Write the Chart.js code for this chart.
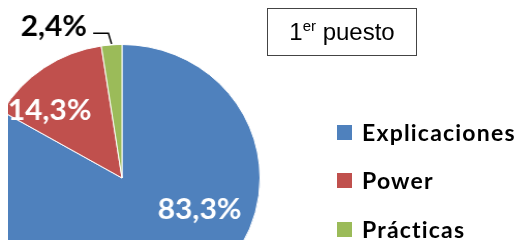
<!DOCTYPE html>
<html>
<head>
<meta charset="utf-8">
<script src="https://cdn.jsdelivr.net/npm/chart.js@4/dist/chart.umd.min.js"></script>
<style>
  body { margin: 0; width: 521px; height: 240px; overflow: hidden; position: relative; background: #fff; }
  #pieWrap { position: absolute; left: 8px; top: 0; width: 320px; height: 240px; overflow: hidden; }
  #pie { position: absolute; left: -66px; top: -2px; width: 360px; height: 360px;
         transform: scaleX(1.034); transform-origin: 180px 180px; }
  #title { position: absolute; left: 267px; top: 8px; width: 148px; height: 46px; border: 1px solid #444;
           font: 24px "Liberation Sans", Arial, sans-serif; color: #000; text-align: center; line-height: 46px; }
  #title sup { font-size: 15px; vertical-align: 0; position: relative; top: -9px; }
  #legend { position: absolute; left: 337px; top: 0; font: 700 23px Lato, sans-serif; letter-spacing: 1.2px; color: #000; }
  .item { position: absolute; left: 0; white-space: nowrap; }
  .box { position: absolute; left: 0; width: 15px; height: 15px; }
  .lbl { position: absolute; left: 25px; }
</style>
</head>
<body>
<div id="pieWrap"><canvas id="pie" width="360" height="360"></canvas></div>
<div id="title">1<sup>er</sup> puesto</div>
<div id="legend"></div>
<script>
const categories = ["Explicaciones", "Power", "Prácticas"];
const shares = [83.3, 14.3, 2.4];
const colors = ["#4F81BD", "#C0504D", "#9BBB59"];
const labelColors = ["#fff", "#fff", "#000"];
// where each value label sits: angle in degrees (canvas), distance in radii
const labelPlaces = [[23, 0.61], [224, 0.73], [246.5, 1.24]];
const legendRows = [132, 180, 229];

const fmt = (v) => v.toFixed(1).replace(".", ",") + "%";

const valueLabels = {
  id: "valueLabels",
  afterDatasetsDraw(chart) {
    const ctx = chart.ctx;
    const arcs = chart.getDatasetMeta(0).data;
    ctx.save();
    ctx.font = "700 29px Lato";
    ctx.textAlign = "center";
    ctx.textBaseline = "middle";
    arcs.forEach((arc, i) => {
      const [deg, k] = labelPlaces[i];
      const a = (deg * Math.PI) / 180;
      const x = arc.x + Math.cos(a) * arc.outerRadius * k;
      const y = arc.y + Math.sin(a) * arc.outerRadius * k;
      ctx.fillStyle = labelColors[i];
      const text = fmt(shares[i]);
      ctx.fillText(text, x, y);
      if (k > 1) {
        // leader line from the label to the slice edge
        const mid = (arc.startAngle + arc.endAngle) / 2;
        const ex = arc.x + Math.cos(mid) * (arc.outerRadius + 1);
        const ey = arc.y + Math.sin(mid) * (arc.outerRadius + 1);
        const sx = x + ctx.measureText(text).width / 2 + 6;
        const sy = y + 7;
        ctx.strokeStyle = "#000";
        ctx.lineWidth = 1.5;
        ctx.beginPath();
        ctx.moveTo(sx, sy);
        ctx.lineTo(ex - 3, sy);
        ctx.lineTo(ex, ey);
        ctx.stroke();
      }
    });
    ctx.restore();
  },
};

const chart = new Chart(document.querySelector("#pie"), {
  type: "pie",
  data: {
    labels: categories,
    datasets: [
      {
        data: shares,
        backgroundColor: colors,
        borderColor: "#fff",
        borderWidth: 1,
      },
    ],
  },
  options: {
    responsive: false,
    animation: false,
    layout: { padding: 46 },
    plugins: { legend: { display: false }, tooltip: { enabled: false } },
  },
  plugins: [valueLabels],
});

const legend = document.querySelector("#legend");
const items = Chart.overrides.pie.plugins.legend.labels.generateLabels(chart);
items.forEach((item, i) => {
  const row = document.createElement("div");
  row.className = "item";
  row.style.top = legendRows[i] - 14 + "px";
  row.innerHTML = `<span class="box" style="background:${item.fillStyle};top:7px"></span><span class="lbl">${item.text}</span>`;
  legend.appendChild(row);
});
</script>
</body>
</html>
